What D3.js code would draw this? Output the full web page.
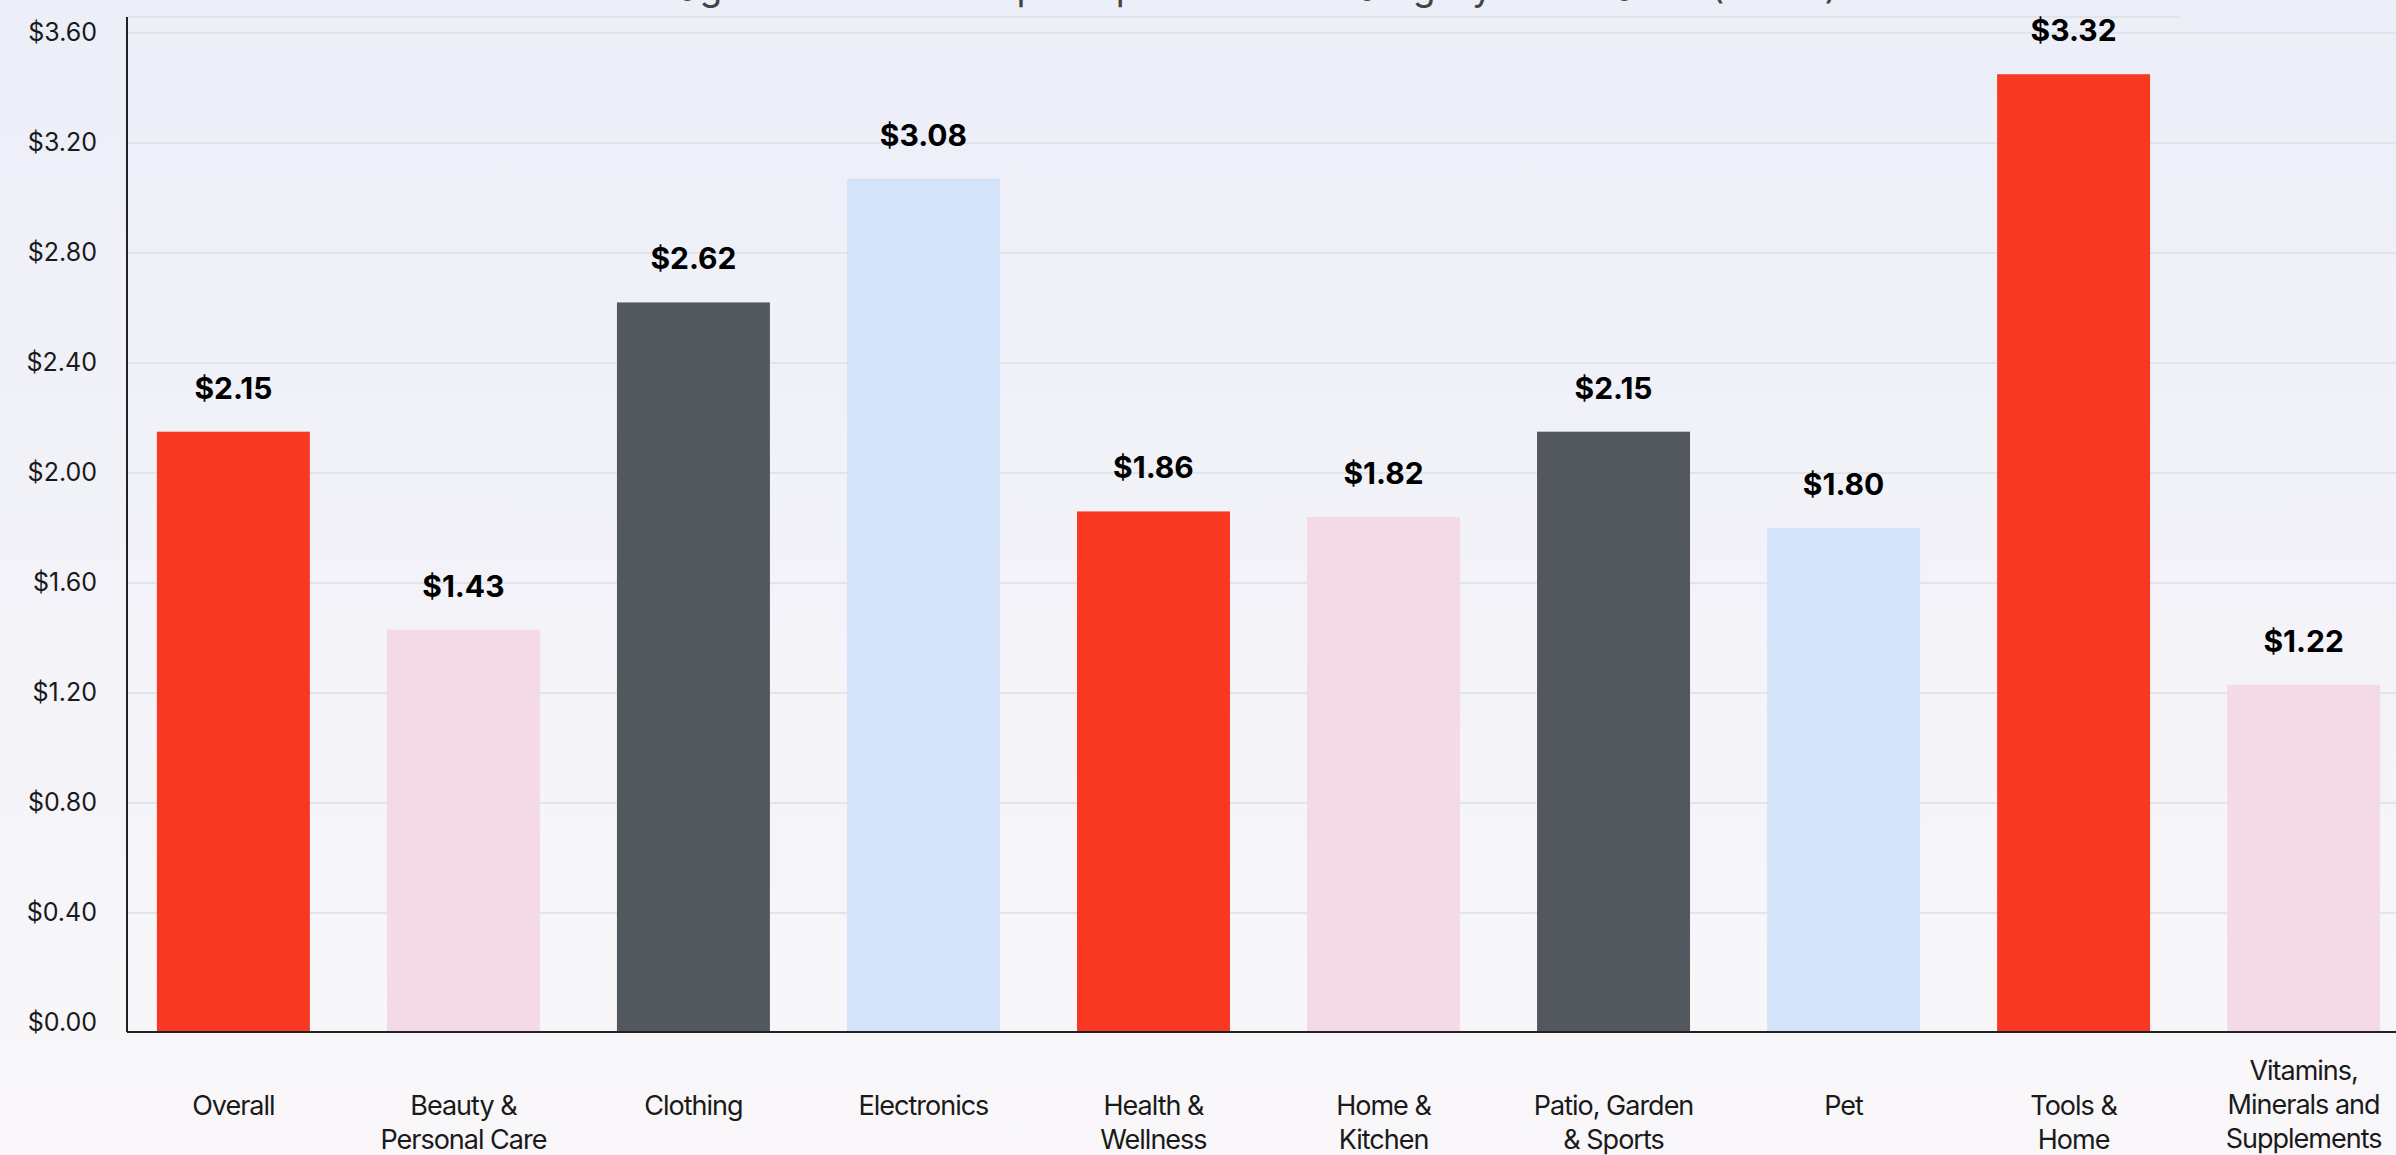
<!DOCTYPE html>
<html>
<head>
<meta charset="utf-8">
<script src="https://cdn.jsdelivr.net/npm/d3@7"></script>
<style>
  html, body { margin: 0; padding: 0; overflow: hidden; }
  svg { display: block; }
</style>
</head>
<body>
<div id="chart"></div>
<script>
// Chart data
const categories = [
    'Overall', 'Beauty & Personal Care', 'Clothing', 'Electronics', 'Health & Wellness',
    'Home & Kitchen', 'Patio, Garden & Sports', 'Pet', 'Tools & Home', 'Vitamins, Minerals and Supplements'
];
// label lines as they wrap in the picture
const categoryLines = [
    ['Overall'], ['Beauty &', 'Personal Care'], ['Clothing'], ['Electronics'], ['Health &', 'Wellness'],
    ['Home &', 'Kitchen'], ['Patio, Garden', '& Sports'], ['Pet'], ['Tools &', 'Home'],
    ['Vitamins,', 'Minerals and', 'Supplements']
];
// bar heights as drawn
const values = [2.15, 1.43, 2.62, 3.07, 1.86, 1.84, 2.15, 1.80, 3.45, 1.23];
// printed value labels
const valueLabels = ['$2.15', '$1.43', '$2.62', '$3.08', '$1.86', '$1.82', '$2.15', '$1.80', '$3.32', '$1.22'];
const barColors = ['#f93822', '#f4d9e7', '#53575e', '#d3e3fa', '#f93822', '#f4d9e7', '#53575e', '#d3e3fa', '#f93822', '#f4d9e7'];
const yTicks = [0, 0.4, 0.8, 1.2, 1.6, 2.0, 2.4, 2.8, 3.2, 3.6];
const title = 'Average Return on Ad Spend per Product Category on Amazon (ROAS)';

const width = 2396;
const height = 1155;
const margin = { top: 17, left: 127, bottom: 123 };

const svg = d3.select('#chart')
    .append('svg')
    .attr('width', width)
    .attr('height', height)
    .attr('viewBox', `0 0 ${width} ${height}`);

// background gradient
const defs = svg.append('defs');
const grad = defs.append('linearGradient')
    .attr('id', 'bg')
    .attr('x1', 0).attr('y1', 0).attr('x2', 0).attr('y2', 1);
grad.append('stop').attr('offset', '0%').attr('stop-color', '#eceef8');
grad.append('stop').attr('offset', '100%').attr('stop-color', '#f9f7f9');
svg.append('rect')
    .attr('width', width)
    .attr('height', height)
    .attr('fill', 'url(#bg)');

// Scales
const y = d3.scaleLinear()
    .domain([-0.033, 3.658])
    .range([height - margin.bottom, margin.top]);

const x = d3.scaleBand()
    .domain(categories)
    .range([margin.left, 2410])
    .paddingInner(0.335)
    .paddingOuter(0.13);

// Title (cut off at the top, as in the source image)
svg.append('text')
    .attr('x', 1219)
    .attr('y', 0)
    .attr('text-anchor', 'middle')
    .attr('font-family', 'Inter, sans-serif')
    .attr('font-size', 37)
    .attr('fill', '#444')
    .text(title);

// Gridlines
svg.append('g')
    .selectAll('line')
    .data(yTicks.filter(d => d > 0))
    .join('line')
    .attr('x1', margin.left)
    .attr('x2', width)
    .attr('y1', d => y(d))
    .attr('y2', d => y(d))
    .attr('stroke', '#e3e3ea')
    .attr('stroke-width', 2);

// top border of plot
svg.append('line')
    .attr('x1', margin.left)
    .attr('x2', 2180)
    .attr('y1', y.range()[1])
    .attr('y2', y.range()[1])
    .attr('stroke', '#e3e3ea')
    .attr('stroke-width', 2);

// Bars
svg.append('g')
    .selectAll('rect')
    .data(values)
    .join('rect')
    .attr('x', (d, i) => x(categories[i]))
    .attr('width', x.bandwidth())
    .attr('y', d => y(d))
    .attr('height', d => y.range()[0] - y(d))
    .attr('fill', (d, i) => barColors[i]);

// Value labels
svg.append('g')
    .selectAll('text')
    .data(values)
    .join('text')
    .attr('x', (d, i) => x(categories[i]) + x.bandwidth() / 2)
    .attr('y', d => y(d) - 33)
    .attr('text-anchor', 'middle')
    .attr('font-family', 'Inter, sans-serif')
    .attr('font-weight', 700)
    .attr('font-size', 30)
    .attr('fill', '#000')
    .text((d, i) => valueLabels[i]);

// Y axis
const yAxis = svg.append('g')
    .attr('transform', `translate(${margin.left},0)`)
    .call(d3.axisLeft(y).tickValues(yTicks).tickSize(0).tickPadding(30).tickFormat(d => '$' + d3.format('.2f')(d)));
yAxis.select('.domain').remove();
yAxis.selectAll('text')
    .attr('font-family', 'Inter, sans-serif')
    .attr('font-size', 25)
    .attr('fill', '#1a1a1a');

// axis lines
svg.append('line')
    .attr('x1', margin.left).attr('x2', margin.left)
    .attr('y1', y.range()[1]).attr('y2', y.range()[0])
    .attr('stroke', '#222').attr('stroke-width', 2);
svg.append('line')
    .attr('x1', margin.left).attr('x2', width)
    .attr('y1', y.range()[0]).attr('y2', y.range()[0])
    .attr('stroke', '#222').attr('stroke-width', 2);

// X labels
const xLabels = svg.append('g')
    .selectAll('text')
    .data(categories)
    .join('text')
    .attr('text-anchor', 'middle')
    .attr('font-family', 'Inter, sans-serif')
    .attr('font-size', 27)
    .attr('letter-spacing', -1)
    .attr('fill', '#1a1a1a');

xLabels.each(function (d, i) {
    const lines = categoryLines[i];
    const cx = x(d) + x.bandwidth() / 2;
    const top = lines.length > 2 ? 1080 : 1115;
    d3.select(this).selectAll('tspan')
        .data(lines)
        .join('tspan')
        .attr('x', cx)
        .attr('y', (l, j) => top + j * 34)
        .text(l => l);
});
</script>
</body>
</html>
